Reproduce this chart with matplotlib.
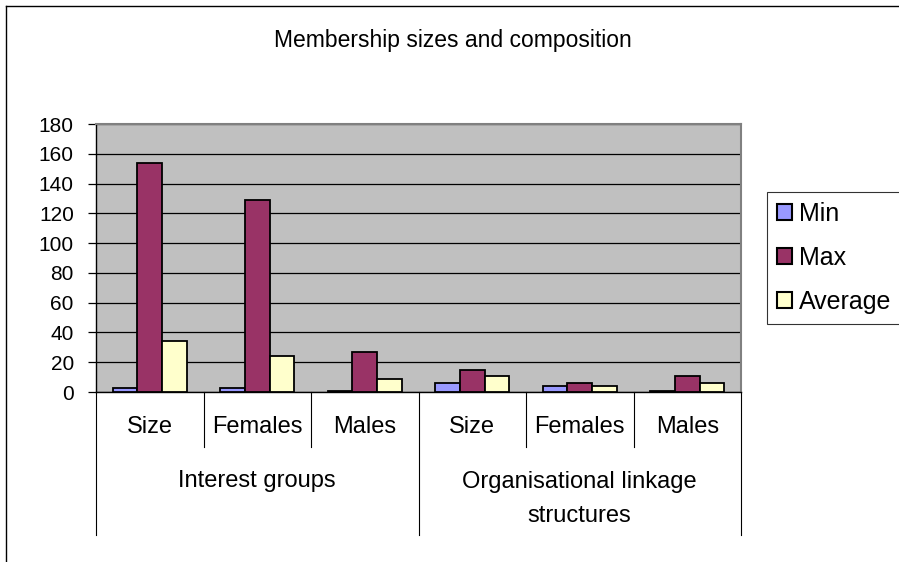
import matplotlib
matplotlib.use("Agg")
import matplotlib.pyplot as plt
from matplotlib.lines import Line2D
from matplotlib.patches import Patch
import numpy as np

plt.rcParams['font.family'] = ['Liberation Sans', 'DejaVu Sans']

title = "Membership sizes and composition"
subcategories = ["Size", "Females", "Males", "Size", "Females", "Males"]
groups = ["Interest groups", "Organisational linkage\nstructures"]
series_names = ["Min", "Max", "Average"]
min_vals = [3, 3, 1, 6, 4, 1]
max_vals = [154, 129, 27, 15, 6, 11]
avg_vals = [34, 24, 9, 11, 4, 6]
colors = ["#9999FF", "#993366", "#FFFFCC"]
yticks = [0, 20, 40, 60, 80, 100, 120, 140, 160, 180]

W, H = 899, 562
fig = plt.figure(figsize=(W / 100, H / 100), dpi=100)

def px(x0, y0, x1, y1):
    return [x0 / W, 1 - y1 / H, (x1 - x0) / W, (y1 - y0) / H]

ax = fig.add_axes(px(96, 124, 741, 392))
ax.set_facecolor("#C0C0C0")

x = np.arange(len(subcategories))
bw = 0.23
for i, (vals, name, c) in enumerate(zip([min_vals, max_vals, avg_vals], series_names, colors)):
    ax.bar(x + (i - 1) * bw, vals, bw, color=c, edgecolor="black", linewidth=1.3,
           label=name, zorder=3)

ax.set_xlim(-0.5, len(subcategories) - 0.5)
ax.set_ylim(0, 180)
ax.set_yticks(yticks)
ax.set_yticklabels([str(v) for v in yticks], fontsize=15)
ax.yaxis.grid(True, color="black", linewidth=0.9, zorder=0)
ax.set_axisbelow(True)
ax.tick_params(axis="y", direction="out", length=6, width=0.9, pad=10, colors="black")
ax.set_xticks([])
for s in ["top", "right"]:
    ax.spines[s].set_color("#808080")
    ax.spines[s].set_linewidth(1.5)
for s in ["left", "bottom"]:
    ax.spines[s].set_color("black")
    ax.spines[s].set_linewidth(1.0)

# hierarchical category axis below the plot
trans = ax.get_xaxis_transform()
ax_h = 392 - 124

def ay(ypix):
    return (392 - ypix) / ax_h

for k in range(len(subcategories) + 1):
    xd = k - 0.5
    long = k in (0, 3, 6)
    y_end = ay(535) if long else ay(447)
    ax.add_line(Line2D([xd, xd], [0, y_end], transform=trans, color="black",
                       linewidth=0.8, clip_on=False))
for k, lab in enumerate(subcategories):
    ax.text(k, ay(427), lab, transform=trans, ha="center", va="center", fontsize=17)
group_y = [481, 499]
for g, lab in enumerate(groups):
    ax.text(g * 3 + 1, ay(group_y[g]), lab, transform=trans, ha="center", va="center",
            fontsize=17, linespacing=1.7)

fig.text(453 / W, 1 - 41 / H, title, ha="center", va="center", fontsize=16.5)

# chart frame
fig.add_artist(Line2D([6 / W, 6 / W], [0, 1 - 6 / H], color="black", linewidth=1.0))
fig.add_artist(Line2D([6 / W, 1], [1 - 6 / H, 1 - 6 / H], color="black", linewidth=1.0))

handles = [Patch(facecolor=c, edgecolor="black", linewidth=1.5) for c in colors]
leg = fig.legend(handles, series_names, loc="upper left",
                 bbox_to_anchor=(767 / W, 1 - 192 / H), fontsize=18,
                 frameon=True, fancybox=False, edgecolor="black",
                 handlelength=0.58, handleheight=0.58, handletextpad=0.3,
                 labelspacing=0.8, borderpad=0.4, borderaxespad=0)
leg.get_frame().set_linewidth(0.8)

fig.savefig("out.png", dpi=100, facecolor="white")
